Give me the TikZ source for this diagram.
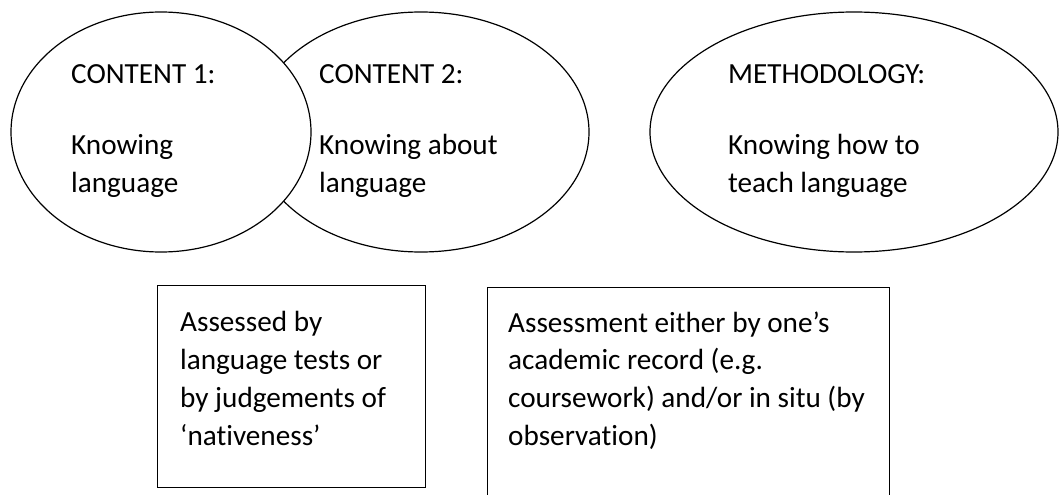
\documentclass[tikz,border=0pt]{standalone}
\usepackage{fontspec}
\setmainfont[RawFeature={-liga,-clig,-dlig}]{Carlito}
\usetikzlibrary{shapes.geometric}
\newcommand{\tbrk}{\kern0pt\relax}
\begin{document}
\begin{tikzpicture}[x=1pt,y=-1pt,
  shapeline/.style={draw=black,line width=1.2pt},
  oval/.style={shapeline,ellipse,inner sep=0pt},
  panel/.style={shapeline,rectangle,inner sep=0pt,anchor=north west},
  txt/.style={anchor=base west,inner sep=0pt,font=\fontsize{29.2}{38}\selectfont}]
\clip (0,0) rectangle (1060,495);
\fill[white] (0,0) rectangle (1060,495);
% ellipses
\node[oval,minimum width=336pt,minimum height=240pt] (e2) at (421,132) {};
\node[oval,fill=white,minimum width=300pt,minimum height=240pt] (e1) at (161,132) {};
\node[oval,minimum width=408pt,minimum height=240pt] (e3) at (854,132) {};
% ellipse texts
\node[txt] (c1a) at (71,83) {CONTENT 1:};
\node[txt] (c1b) at (71,154) {Knowing};
\node[txt] (c1c) at (71,192) {language};
\node[txt] (c2a) at (319,83) {CONTENT 2:};
\node[txt] (c2b) at (319,154) {Knowing about};
\node[txt] (c2c) at (319,192) {language};
\node[txt] (m1) at (728,83) {METHODOLOGY:};
\node[txt] (m2) at (728,154) {Knowing how to};
\node[txt] (m3) at (728,192) {teach language};
% boxes
\node[panel,minimum width=268pt,minimum height=202pt] (b1) at (157,285) {};
\node[panel,minimum width=402pt,minimum height=240pt] (b2) at (487,287) {};
\node[txt] (b1a) at (180,331) {Assessed by};
\node[txt] (b1b) at (180,369) {language tests or};
\node[txt] (b1c) at (180,407) {by judgements of};
\node[txt] (b1d) at (180,445) {‘nat\tbrk iveness’};
\node[txt] (b2a) at (508,332) {Assessment either by one’s};
\node[txt] (b2b) at (508,369) {academic record (e.g.};
\node[txt] (b2c) at (508,407) {coursework) and/or in situ (by};
\node[txt] (b2d) at (508,445) {observat\tbrk ion)};
\end{tikzpicture}
\end{document}
